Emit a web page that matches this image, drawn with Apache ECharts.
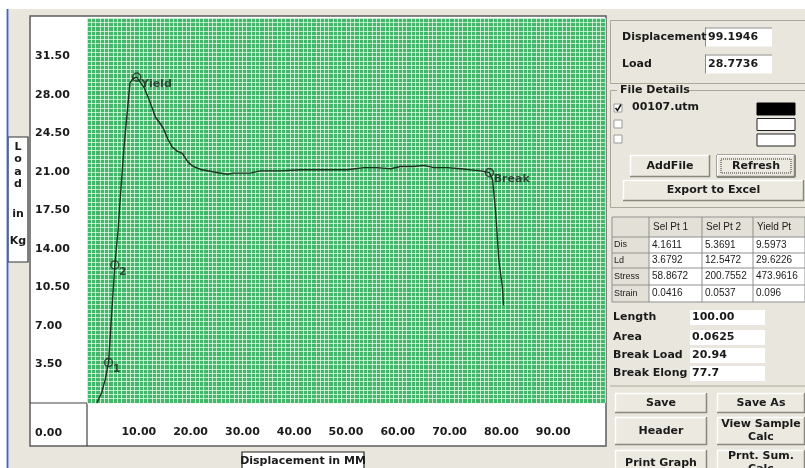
<!DOCTYPE html>
<html><head><meta charset="utf-8">
<script src="https://cdn.jsdelivr.net/npm/echarts/dist/echarts.min.js"></script>
<style>html,body{margin:0;padding:0;background:#fff}#c{width:805px;height:468px}</style>
</head><body><div id="c"></div>
<script>
// ---- data ----
const displacement = [1.9, 2.8, 3.5, 4.16, 5.37, 6.0, 6.4, 7.1, 7.7, 8.3, 8.9, 9.6, 9.9, 11.0, 11.8, 12.6, 13.2, 14.0, 14.7, 15.6, 16.4, 17.4, 18.4, 19.5, 20.5, 22.2, 24.5, 27.1, 28.2, 31.5, 33.5, 37.3, 41.2, 45.0, 50.3, 53.4, 56.0, 58.6, 60.5, 63.1, 65.0, 66.9, 69.6, 72.1, 76.0, 77.7, 78.3, 78.9, 79.5, 80.2, 80.4];
const load =         [0.0, 0.9, 2.1, 3.68, 12.55, 15.7, 18.5, 23.0, 26.1, 29.1, 29.5, 29.62, 29.5, 28.7, 27.8, 26.8, 26.0, 25.5, 25.0, 24.0, 23.3, 22.9, 22.7, 21.9, 21.5, 21.2, 21.0, 20.8, 20.9, 20.9, 21.1, 21.1, 21.2, 21.2, 21.2, 21.4, 21.4, 21.3, 21.5, 21.5, 21.6, 21.4, 21.4, 21.3, 21.1, 20.94, 20.3, 17.3, 13.0, 10.5, 8.9];
const markerNames = ['1', '2', 'Yield', 'Break'];
const markerX = [4.1611, 5.3691, 9.5973, 77.7];
const markerY = [3.6792, 12.5472, 29.6226, 20.94];
const xTickLabels = ['0.00','10.00','20.00','30.00','40.00','50.00','60.00','70.00','80.00','90.00'];
const yTickLabels = ['0.00','3.50','7.00','10.50','14.00','17.50','21.00','24.50','28.00','31.50'];
const tableCols = ['Sel Pt 1', 'Sel Pt 2', 'Yield Pt'];
const tableRows = ['Dis', 'Ld', 'Stress', 'Strain'];
const selPt1 = ['4.1611', '3.6792', '58.8672', '0.0416'];
const selPt2 = ['5.3691', '12.5472', '200.7552', '0.0537'];
const yieldPt = ['9.5973', '29.6226', '473.9616', '0.096'];
const propLabels = ['Length', 'Area', 'Break Load', 'Break Elong'];
const propValues = ['100.00', '0.0625', '20.94', '77.7'];
const readLabels = ['Displacement', 'Load'];
const readValues = ['99.1946', '28.7736'];

// ---- helpers for the surrounding window ----
const G = [];
function rect(x,y,w,h,fill,stroke,lw,z,dash){G.push({type:'rect',shape:{x:x,y:y,width:w,height:h},style:{fill:fill||'none',stroke:stroke||null,lineWidth:lw||1,lineDash:dash||null},z:z==null?-10:z,silent:true});}
function line(x1,y1,x2,y2,c,lw,z){G.push({type:'line',shape:{x1:x1,y1:y1,x2:x2,y2:y2},style:{stroke:c,lineWidth:lw||1},z:z==null?-9:z,silent:true});}
function txt(x,y,s,o){o=o||{};G.push({type:'text',x:x,y:y,style:{text:s,fill:o.color||'#1a1a1a',font:(o.bold===false?'':'bold ')+(o.size||11)+'px '+(o.family||'"DejaVu Sans", sans-serif'),textAlign:o.align||'left',align:o.align||'left',textVerticalAlign:'middle',verticalAlign:'middle'},z:-8,silent:true});}
function button(x,y,w,h,lines,def){
  rect(x,y,w,h,'#ebe9e0');
  line(x,y+0.5,x+w,y+0.5,'#ffffff',1.5); line(x+0.5,y,x+0.5,y+h,'#ffffff',1.5);
  line(x,y+h-0.5,x+w,y+h-0.5,'#8a887e',1.5); line(x+w-0.5,y,x+w-0.5,y+h,'#8a887e',1.5);
  if(def){rect(x,y,w,h,'none','#222',1); rect(x+4,y+4,w-8,h-8,'none','#333',1,-9,[1,1]);}
  const cy=y+h/2, n=lines.length;
  lines.forEach(function(s,i){txt(x+w/2,cy+(i-(n-1)/2)*13,s,{align:'center'});});
}
function field(x,y,w,h){
  rect(x,y,w,h,'#ffffff');
  line(x,y+0.5,x+w,y+0.5,'#8a8a8a',1); line(x+0.5,y,x+0.5,y+h,'#8a8a8a',1);
}

// window background
rect(0,0,805,468,'#ffffff');
rect(8,9,797,459,'#e9e7dd');
line(7.5,9,7.5,468,'#3f63c8',1.8);
// chart panel
rect(30,16,576,430,'#ffffff','#5c5c5c',1.5);
line(30,403,87,403,'#444',1.2);
line(87,403,87,446,'#444',1.2);
txt(35,433,yTickLabels[0]);
// vertical axis title box
rect(8,137,20,125,'#ffffff','#333',1.2);
['L','o','a','d'].forEach(function(c,i){txt(18,147+i*12.5,c,{align:'center'});});
txt(18,214,'in',{align:'center'});
txt(18,241,'Kg',{align:'center'});
// horizontal axis title box
rect(242,452,122,20,'#ffffff','#222',1.2);
txt(303,461,'Displacement in MM',{align:'center'});

// right panel: readout group
rect(610.5,20.5,196,63,'none','#aca899',1);
readLabels.forEach(function(s,i){
  const yy=[37,64][i];
  txt(622,yy,s);
  field(705,yy-9.5,67,19);
  txt(708,yy,readValues[i]);
});
// file details group
rect(610.5,90.5,196,117,'none','#aca899',1);
rect(617,84,72,12,'#e9e7dd');
txt(620,90,'File Details');
[108,124,139].forEach(function(yy,i){
  rect(614,yy-4,8,8,'#ffffff','#9a9a9a',1);
});
G.push({type:'polyline',shape:{points:[[615.5,108],[617.5,110.5],[621,104.5]]},style:{stroke:'#111',lineWidth:1.5,fill:'none'},z:-8});
txt(632,107,'00107.utm');
rect(757,103,38,12,'#000000','#000',1);
rect(757,118.5,38,12,'#ffffff','#222',1);
rect(757,134,38,12,'#ffffff','#222',1);
button(630,155,80,22,['AddFile']);
button(717,155,78,22,['Refresh'],true);
button(623,180,181,21,['Export to Excel']);

// data table
const colX=[612,649,702,753,805], rowY=[217,237,253,268,285,302];
rect(612,217,193,85,'#ffffff');
rect(612,217,193,20,'#e3e1d7');
rect(612,217,37,85,'#e3e1d7');
rowY.forEach(function(yy){line(612,yy,805,yy,'#8f8f8f',1);});
colX.forEach(function(xx){line(xx,217,xx,302,'#8f8f8f',1);});
const tf={bold:false,size:10,family:'"Liberation Sans", Arial, sans-serif'};
tableCols.forEach(function(s,i){txt(colX[i+1]+4,227,s,tf);});
const cols=[selPt1,selPt2,yieldPt];
tableRows.forEach(function(r,j){
  const yy=(rowY[j+1]+rowY[j+2])/2;
  txt(614,yy,r,{bold:false,size:9,family:tf.family});
  cols.forEach(function(c,i){txt(colX[i+1]+3,yy,c[j],tf);});
});
// properties
[317,337,355,373].forEach(function(yy,i){
  txt(613,yy,propLabels[i]);
  rect(690,yy-7,75,15,'#ffffff');
  txt(692,yy,propValues[i]);
});
line(610,386,805,386,'#aca899',1);
// buttons
button(615,393,92,20,['Save']);
button(717,393,88,20,['Save As']);
button(615,417,92,28,['Header']);
button(717,417,88,28,['View Sample','Calc']);
button(615,450,92,26,['Print Graph']);
button(717,450,88,26,['Prnt. Sum.','Calc']);

const chart = echarts.init(document.getElementById('c'));
const ink = '#1c3320';
const labelFont = {color:'#1a1a1a',fontFamily:'"DejaVu Sans", sans-serif',fontWeight:'bold',fontSize:11};
chart.setOption({
  animation:false,
  backgroundColor:'#ffffff',
  graphic:{elements:G},
  grid:{left:87,top:18,width:518,height:385,show:true,backgroundColor:'#44b66c',borderWidth:0,containLabel:false},
  xAxis:{type:'value',min:0,max:100,interval:10,
    axisLine:{show:false},axisTick:{show:false},
    axisLabel:Object.assign({margin:24,showMinLabel:true,showMaxLabel:true,
      formatter:function(v){const i=Math.round(v/10);return (i>=1&&i<xTickLabels.length)?xTickLabels[i]:'';}},labelFont),
    splitLine:{show:true,lineStyle:{color:'rgba(236,255,238,0.75)',width:1}},
    minorTick:{show:false,splitNumber:12},
    minorSplitLine:{show:true,lineStyle:{color:'rgba(236,255,238,0.72)',width:1}}
  },
  yAxis:{type:'value',min:0,max:35,interval:3.5,
    axisLine:{show:false},axisTick:{show:false},
    axisLabel:Object.assign({margin:52,align:'left',
      formatter:function(v){const i=Math.round(v/3.5);return (i>=1&&i<yTickLabels.length)?yTickLabels[i]:'';}},labelFont),
    splitLine:{show:true,lineStyle:{color:'rgba(236,255,238,0.75)',width:1}},
    minorTick:{show:false,splitNumber:9},
    minorSplitLine:{show:true,lineStyle:{color:'rgba(236,255,238,0.72)',width:1}}
  },
  series:[
    {type:'line',data:displacement.map(function(x,i){return [x,load[i]];}),
     showSymbol:false,symbol:'none',smooth:false,
     lineStyle:{color:ink,width:1.4},z:3},
    {type:'scatter',data:markerX.map(function(x,i){return {name:markerNames[i],value:[x,markerY[i]]};}),
     symbol:'circle',symbolSize:8,
     itemStyle:{color:'rgba(0,0,0,0)',borderColor:ink,borderWidth:1.6},
     label:{show:true,formatter:'{b}',position:[9,6],align:'left',verticalAlign:'top',
       color:'#14281a',fontFamily:'"DejaVu Sans", sans-serif',fontWeight:'bold',fontSize:11},
     z:4}
  ]
});
</script></body></html>
